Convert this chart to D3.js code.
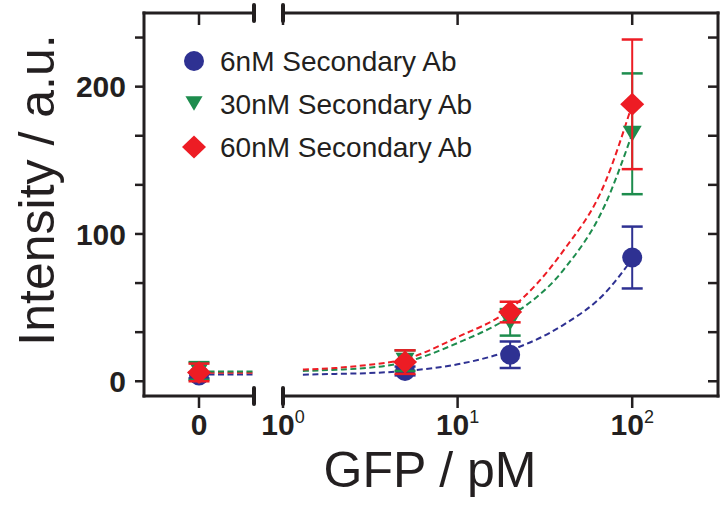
<!DOCTYPE html>
<html>
<head>
<meta charset="utf-8">
<script src="https://cdn.jsdelivr.net/npm/d3@7"></script>
<style>
  html, body { margin: 0; padding: 0; background: #fff; }
  svg { display: block; }
  text { font-family: "Liberation Sans", Arial, Helvetica, sans-serif; fill: #231f20; }
</style>
</head>
<body>
<svg id="chart" width="721" height="505"></svg>
<script>
// ---------------- data ----------------
const gfpConc = [0, 5, 20, 100];              // pM (0 shown on the linear break segment)
const seriesNames = ["6nM Secondary Ab", "30nM Secondary Ab", "60nM Secondary Ab"];
const mean6  = [4, 7, 18, 84];
const err6   = [2, 3, 9, 21];
const mean30 = [7, 14, 40, 168];
const err30  = [6, 7, 9, 41];
const mean60 = [6, 13, 47, 188];
const err60  = [6, 8, 7, 44];

// dashed fit curves
const fitX   = [1.3, 2, 3, 5, 10, 20, 40, 70, 100];
const fit6   = [4.5, 5, 5.5, 7, 11.5, 21, 38, 60, 83];
const fit30  = [7, 7.8, 9, 13, 26, 44, 75, 120, 168];
const fit60  = [8, 9, 11, 15, 30, 49, 88, 135, 188];
const fitZero = [4.6, 6.7, 5.7];               // flat fit level on the "0" segment

const yTickLabels = [0, 100, 200];
const yMinorTicks = [0, 100/3, 200/3, 100, 400/3, 500/3, 200, 700/3];
const xLogTicks = [1, 10, 100];
const xLogTickExp = ["0", "1", "2"];

// ---------------- layout ----------------
const L = 144, R = 718, T = 13, B = 396;
const breakL = 254, breakR = 283;
const colors = ["#2e3192", "#1d8c4d", "#ed1c24"];
const ink = "#231f20";

const svg = d3.select("#chart");
const y = d3.scaleLinear().domain([-10, 250]).range([B, T]);
const xLin = d3.scaleLinear().domain([-1, 1]).range([L, breakL]);
const xLog = d3.scaleLog().domain([1, 310]).range([breakR, R]);
const xPos = v => v === 0 ? xLin(0) : xLog(v);

const means = [mean6, mean30, mean60];
const errs = [err6, err30, err60];
const fits = [fit6, fit30, fit60];

// ---------------- fit curves ----------------
const line = d3.line().x(d => xLog(d[0])).y(d => y(d[1])).curve(d3.curveMonotoneX);
const gCurves = svg.append("g");
fits.forEach((f, i) => {
  gCurves.append("path")
    .attr("d", line(fitX.map((xv, k) => [xv, f[k]])))
    .attr("fill", "none").attr("stroke", colors[i]).attr("stroke-width", 2)
    .attr("stroke-dasharray", "6,3.5");
});
[0, 2, 1].forEach(i => {
  gCurves.append("line")
    .attr("x1", xLin(0)).attr("x2", xLin(0.98))
    .attr("y1", y(fitZero[i])).attr("y2", y(fitZero[i]))
    .attr("stroke", colors[i]).attr("stroke-width", 2)
    .attr("stroke-dasharray", "6,3.5");
});

// ---------------- error bars + markers ----------------
function drawMarker(g, i, cx, cy, scale) {
  if (i === 0) {
    g.append("circle").attr("cx", cx).attr("cy", cy).attr("r", 10 * scale).attr("fill", colors[0]);
  } else if (i === 1) {
    const w = 9.5 * scale, h = 8 * scale;
    g.append("path").attr("d", `M${cx - w},${cy - h}L${cx + w},${cy - h}L${cx},${cy + h}Z`).attr("fill", colors[1]);
  } else {
    const w = 12 * scale, h = 11.5 * scale;
    g.append("path").attr("d", `M${cx},${cy - h}L${cx + w},${cy}L${cx},${cy + h}L${cx - w},${cy}Z`).attr("fill", colors[2]);
  }
}
means.forEach((m, i) => {
  const g = svg.append("g");
  gfpConc.forEach((c, k) => {
    const cx = xPos(c);
    const yt = y(m[k] + errs[i][k]), yb = y(m[k] - errs[i][k]);
    g.append("line").attr("x1", cx).attr("x2", cx).attr("y1", yt).attr("y2", yb)
      .attr("stroke", colors[i]).attr("stroke-width", 2);
    [yt, yb].forEach(yy => g.append("line")
      .attr("x1", cx - 10.5).attr("x2", cx + 10.5).attr("y1", yy).attr("y2", yy)
      .attr("stroke", colors[i]).attr("stroke-width", 2.5));
    drawMarker(g, i, cx, y(m[k]), 1);
  });
});

// ---------------- frame / axes ----------------
const frame = svg.append("g").attr("stroke", ink).attr("stroke-width", 3).attr("fill", "none");
frame.append("line").attr("x1", L).attr("x2", L).attr("y1", T).attr("y2", B).attr("stroke-linecap", "square");
frame.append("line").attr("x1", R).attr("x2", R).attr("y1", T).attr("y2", B).attr("stroke-linecap", "square");
[T, B].forEach(yy => {
  frame.append("line").attr("x1", L).attr("x2", breakL).attr("y1", yy).attr("y2", yy).attr("stroke-linecap", "square");
  frame.append("line").attr("x1", breakR).attr("x2", R).attr("y1", yy).attr("y2", yy).attr("stroke-linecap", "square");
  [breakL, breakR].forEach(bx => frame.append("line")
    .attr("x1", bx).attr("x2", bx).attr("y1", yy - 8).attr("y2", yy + 8)
    .attr("stroke-width", 4).attr("stroke-linecap", "round"));
});

// y ticks
yMinorTicks.forEach(v => {
  frame.append("line").attr("x1", L - 9).attr("x2", L).attr("y1", y(v)).attr("y2", y(v)).attr("stroke-width", 2.5);
  frame.append("line").attr("x1", R - 10).attr("x2", R).attr("y1", y(v)).attr("y2", y(v)).attr("stroke-width", 2.5);
});
svg.append("g").selectAll("text").data(yTickLabels).join("text")
  .attr("x", L - 18).attr("y", d => y(d)).attr("dy", "0.36em")
  .attr("text-anchor", "end").attr("font-size", 30).attr("font-weight", "bold")
  .text(d => d);

// x ticks
const xTickPos = [xLin(0)].concat(xLogTicks.map(v => xLog(v)));
xTickPos.forEach(px => {
  frame.append("line").attr("x1", px).attr("x2", px).attr("y1", B).attr("y2", B + 12).attr("stroke-width", 2.5);
  frame.append("line").attr("x1", px).attr("x2", px).attr("y1", T).attr("y2", T + 12).attr("stroke-width", 2.5);
});
svg.append("text").attr("x", xLin(0)).attr("y", 435).attr("text-anchor", "middle")
  .attr("font-size", 30).attr("font-weight", "bold").text("0");
xLogTicks.forEach((v, k) => {
  const t = svg.append("text").attr("x", xLog(v)).attr("y", 435).attr("text-anchor", "middle")
    .attr("font-size", 30).attr("font-weight", "bold");
  t.append("tspan").text("10");
  t.append("tspan").attr("dy", -12).attr("font-size", 18).attr("font-weight", "normal").text(xLogTickExp[k]);
});

// axis titles
svg.append("text").attr("x", 430).attr("y", 487).attr("text-anchor", "middle")
  .attr("font-size", 50).text("GFP / pM");
svg.append("text").attr("transform", `translate(54,190) rotate(-90)`).attr("text-anchor", "middle")
  .attr("font-size", 50).text("Intensity / a.u.");

// ---------------- legend ----------------
const legY = [61, 103.5, 147];
seriesNames.forEach((n, i) => {
  const g = svg.append("g");
  drawMarker(g, i, 194, legY[i], i === 0 ? 1 : (i === 1 ? 0.9 : 1));
  g.append("text").attr("x", 220).attr("y", legY[i]).attr("dy", "0.36em")
    .attr("font-size", 28).text(n);
});
</script>
</body>
</html>
